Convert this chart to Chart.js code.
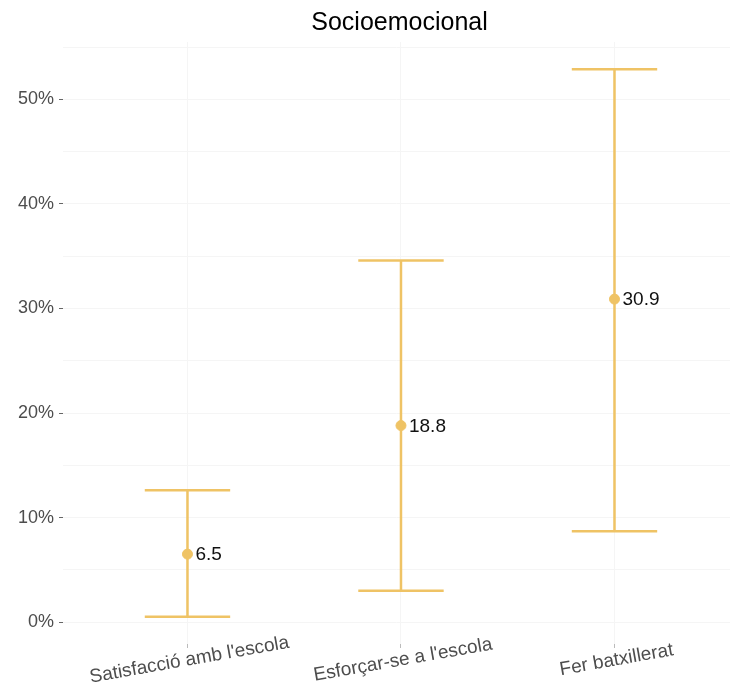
<!DOCTYPE html>
<html>
<head>
<meta charset="utf-8">
<script src="https://cdn.jsdelivr.net/npm/chart.js@4"></script>
<style>
  html, body { margin: 0; padding: 0; background: #fff; }
  #wrap { width: 736px; height: 686px; }
</style>
</head>
<body>
<div id="wrap"><canvas id="plot-socio"></canvas></div>
<script>
const titleText = "Socioemocional";
const categories = ["Satisfacció amb l'escola", "Esforçar-se a l'escola", "Fer batxillerat"];
const means = [6.5, 18.8, 30.9];
const lower = [0.5, 3.0, 8.7];
const upper = [12.6, 34.6, 52.9];
const yTicks = [0, 10, 20, 30, 40, 50];

const gold = "#efc365";
const capHalf = 0.2;

// whiskers as one line dataset, broken with nulls
let whiskers = [];
categories.forEach((c, i) => {
  let x = i + 1;
  whiskers.push({ x: x, y: lower[i] }, { x: x, y: upper[i] }, { x: x, y: null });
  whiskers.push({ x: x - capHalf, y: upper[i] }, { x: x + capHalf, y: upper[i] }, { x: x, y: null });
  whiskers.push({ x: x - capHalf, y: lower[i] }, { x: x + capHalf, y: lower[i] }, { x: x, y: null });
});
let points = means.map((m, i) => ({ x: i + 1, y: m }));

const extras = {
  id: "extras",
  afterDatasetsDraw(chart) {
    const ctx = chart.ctx;
    const area = chart.chartArea;
    const xs = chart.scales.x;
    ctx.save();
    // value labels
    ctx.fillStyle = "#111";
    ctx.font = "19px 'Liberation Sans', Arial, sans-serif";
    ctx.textAlign = "left";
    ctx.textBaseline = "middle";
    chart.getDatasetMeta(1).data.forEach((el, i) => {
      ctx.fillText(means[i].toFixed(1), el.x + 8, el.y + 1);
    });
    // rotated category labels
    ctx.fillStyle = "#4d4d4d";
    ctx.font = "19px 'Liberation Sans', Arial, sans-serif";
    ctx.textAlign = "center";
    categories.forEach((c, i) => {
      ctx.save();
      ctx.translate(xs.getPixelForValue(i + 1) + 2, area.bottom + 16);
      ctx.rotate(-10 * Math.PI / 180);
      ctx.fillText(c, 0, 0);
      ctx.restore();
    });
    // title over the panel
    ctx.fillStyle = "#000";
    ctx.font = "25px 'Liberation Sans', Arial, sans-serif";
    ctx.fillText(titleText, (area.left + area.right) / 2 + 3, 23);
    ctx.restore();
  }
};

new Chart(document.getElementById("plot-socio"), {
  type: "line",
  data: {
    datasets: [
      {
        label: "ic",
        data: whiskers,
        borderColor: gold,
        borderWidth: 2.5,
        pointRadius: 0,
        spanGaps: false,
        fill: false,
      },
      {
        label: "mitjana",
        type: "scatter",
        data: points,
        backgroundColor: gold,
        borderColor: gold,
        pointRadius: 5,
      },
    ],
  },
  options: {
    responsive: true,
    maintainAspectRatio: false,
    animation: false,
    layout: { padding: { top: 42, right: 0, left: 0, bottom: 0 } },
    plugins: { legend: { display: false }, tooltip: { enabled: false }, title: { display: false } },
    scales: {
      x: {
        type: "linear",
        min: 0.417,
        max: 3.541,
        afterBuildTicks: (s) => { s.ticks = categories.map((c, i) => ({ value: i + 1 })); },
        afterFit: (s) => { s.height = 42; },
        ticks: { display: false },
        border: { display: false },
        grid: { color: "#f5f5f5", tickColor: "#bbb", tickLength: 4, lineWidth: 1 },
      },
      y: {
        min: -2.1,
        max: 55.5,
        afterBuildTicks: (s) => {
          let t = [];
          for (let v = 0; v <= 55; v += 5) t.push({ value: v });
          s.ticks = t;
        },
        afterFit: (s) => { s.width = 63; },
        ticks: {
          color: "#4d4d4d",
          font: { family: "'Liberation Sans', Arial, sans-serif", size: 18 },
          padding: 5,
          callback: (v) => (yTicks.includes(v) ? v + "%" : ""),
        },
        border: { display: false },
        grid: {
          color: "#f5f5f5",
          tickColor: (c) => (yTicks.includes(c.tick.value) ? "#666" : "transparent"),
          tickLength: 4,
        },
      },
    },
  },
  plugins: [extras],
});
</script>
</body>
</html>
